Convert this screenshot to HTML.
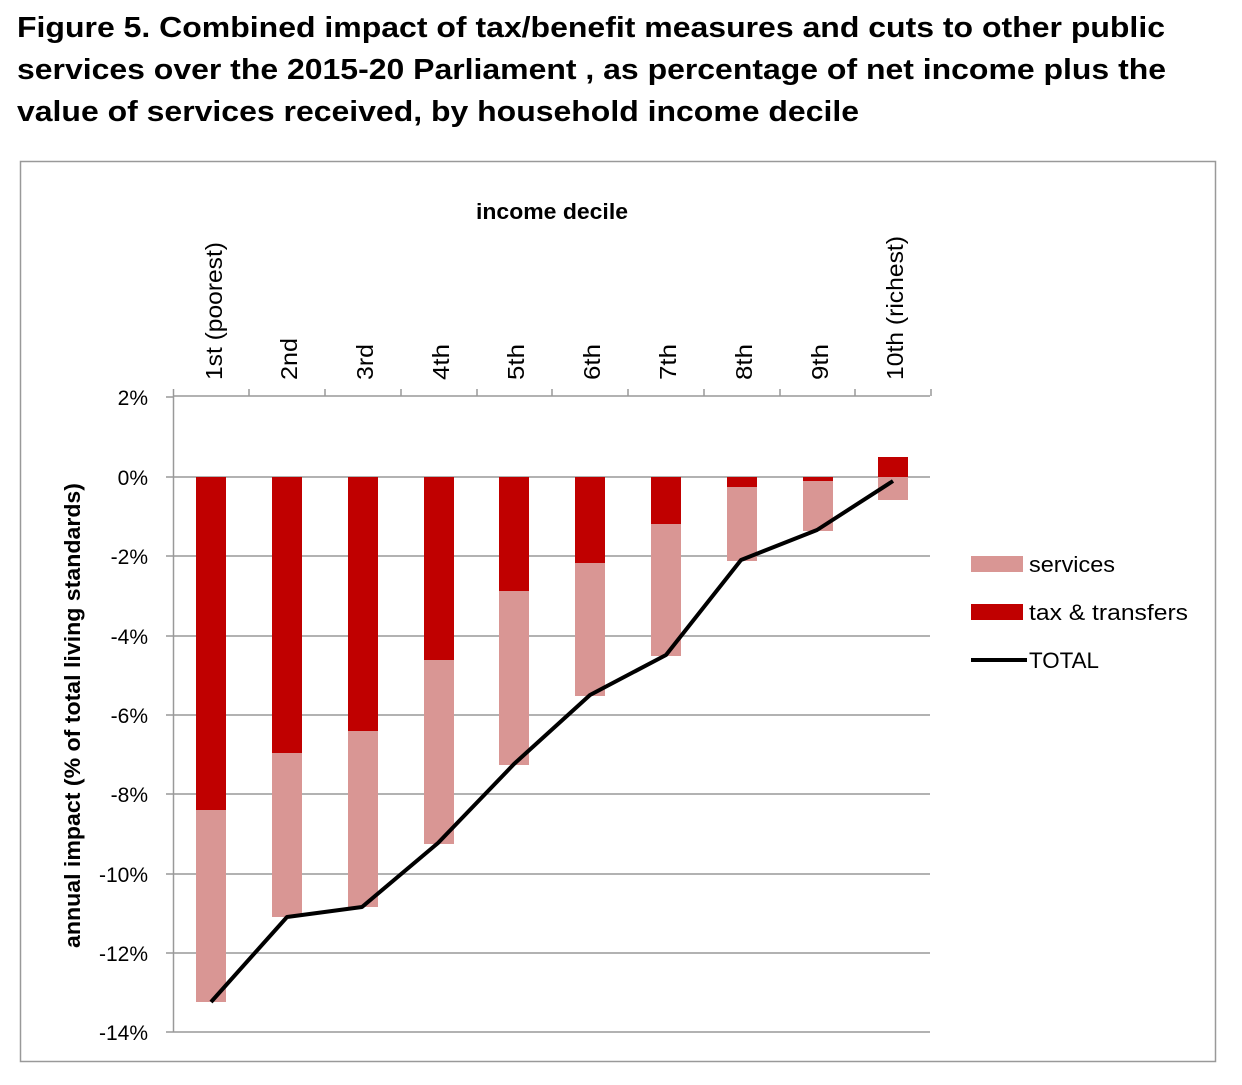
<!DOCTYPE html><html><head><meta charset="utf-8"><style>body{margin:0;background:#fff;width:1242px;height:1080px;overflow:hidden}</style></head><body>
<svg width="1242" height="1080" xmlns="http://www.w3.org/2000/svg" font-family="Liberation Sans, sans-serif">
<g font-weight="bold" font-size="29" fill="#000" lengthAdjust="spacingAndGlyphs">
<text x="17" y="37" textLength="1148" lengthAdjust="spacingAndGlyphs">Figure 5. Combined impact of tax/benefit measures and cuts to other public</text>
<text x="17" y="79" textLength="1149" lengthAdjust="spacingAndGlyphs">services over the 2015-20 Parliament , as percentage of net income plus the</text>
<text x="17" y="121" textLength="842" lengthAdjust="spacingAndGlyphs">value of services received, by household income decile</text>
</g>
<rect x="20.5" y="161.5" width="1195" height="900" fill="#fff" stroke="#999" stroke-width="1.5"/>
<g stroke="#999" stroke-width="1.5">
<line x1="173" y1="477" x2="930" y2="477"/><line x1="173" y1="556" x2="930" y2="556"/><line x1="173" y1="636" x2="930" y2="636"/><line x1="173" y1="715" x2="930" y2="715"/><line x1="173" y1="794" x2="930" y2="794"/><line x1="173" y1="874" x2="930" y2="874"/><line x1="173" y1="953" x2="930" y2="953"/><line x1="173" y1="1032" x2="930" y2="1032"/>
<line x1="173" y1="396" x2="930" y2="396"/><line x1="173.5" y1="396" x2="173.5" y2="1032"/>
<path d="M166 397h7M166 477h7M166 556h7M166 636h7M166 715h7M166 794h7M166 874h7M166 953h7M166 1032h7"/>
<path d="M173.5 389v7M249 389v7M325 389v7M401 389v7M477 389v7M552 389v7M628 389v7M704 389v7M780 389v7M855 389v7M931 389v7"/>
</g>
<g>
<rect x="196" y="477" width="30" height="333" fill="#c00000"/><rect x="196" y="810" width="30" height="192" fill="#d99694"/>
<rect x="272" y="477" width="30" height="276" fill="#c00000"/><rect x="272" y="753" width="30" height="164" fill="#d99694"/>
<rect x="348" y="477" width="30" height="254" fill="#c00000"/><rect x="348" y="731" width="30" height="176" fill="#d99694"/>
<rect x="424" y="477" width="30" height="183" fill="#c00000"/><rect x="424" y="660" width="30" height="184" fill="#d99694"/>
<rect x="499" y="477" width="30" height="114" fill="#c00000"/><rect x="499" y="591" width="30" height="174" fill="#d99694"/>
<rect x="575" y="477" width="30" height="86" fill="#c00000"/><rect x="575" y="563" width="30" height="133" fill="#d99694"/>
<rect x="651" y="477" width="30" height="47" fill="#c00000"/><rect x="651" y="524" width="30" height="132" fill="#d99694"/>
<rect x="727" y="477" width="30" height="10" fill="#c00000"/><rect x="727" y="487" width="30" height="74" fill="#d99694"/>
<rect x="803" y="477" width="30" height="4" fill="#c00000"/><rect x="803" y="481" width="30" height="50" fill="#d99694"/>
<rect x="878" y="457" width="30" height="20" fill="#c00000"/><rect x="878" y="477" width="30" height="23" fill="#d99694"/>
</g>
<polyline points="211,1002 287,917 362,907 438,843 514,764 590,695 666,655 741,560 817,530 893,481" fill="none" stroke="#000" stroke-width="4" stroke-linejoin="round"/>
<g font-size="21" text-anchor="end" fill="#000">
<text x="148" y="405">2%</text><text x="148" y="485">0%</text><text x="148" y="564">-2%</text><text x="148" y="644">-4%</text><text x="148" y="723">-6%</text><text x="148" y="802">-8%</text><text x="148" y="882">-10%</text><text x="148" y="961">-12%</text><text x="148" y="1040">-14%</text>
</g>
<g font-size="23" fill="#000">
<text transform="translate(222,380) rotate(-90)" textLength="138" lengthAdjust="spacingAndGlyphs">1st (poorest)</text>
<text transform="translate(297,380) rotate(-90)" textLength="42" lengthAdjust="spacingAndGlyphs">2nd</text>
<text transform="translate(373,380) rotate(-90)" textLength="36" lengthAdjust="spacingAndGlyphs">3rd</text>
<text transform="translate(449,380) rotate(-90)" textLength="36" lengthAdjust="spacingAndGlyphs">4th</text>
<text transform="translate(524,380) rotate(-90)" textLength="36" lengthAdjust="spacingAndGlyphs">5th</text>
<text transform="translate(600,380) rotate(-90)" textLength="36" lengthAdjust="spacingAndGlyphs">6th</text>
<text transform="translate(676,380) rotate(-90)" textLength="36" lengthAdjust="spacingAndGlyphs">7th</text>
<text transform="translate(752,380) rotate(-90)" textLength="36" lengthAdjust="spacingAndGlyphs">8th</text>
<text transform="translate(828,380) rotate(-90)" textLength="36" lengthAdjust="spacingAndGlyphs">9th</text>
<text transform="translate(903,380) rotate(-90)" textLength="144" lengthAdjust="spacingAndGlyphs">10th (richest)</text>
</g>
<text x="476" y="219" font-size="22" font-weight="bold" textLength="152" lengthAdjust="spacingAndGlyphs">income decile</text>
<text transform="translate(80,948) rotate(-90)" font-size="22" font-weight="bold" textLength="465" lengthAdjust="spacingAndGlyphs">annual impact (% of total living standards)</text>
<rect x="971" y="556" width="52" height="16" fill="#d99694"/>
<rect x="971" y="604" width="52" height="16" fill="#c00000"/>
<line x1="971" y1="660" x2="1027" y2="660" stroke="#000" stroke-width="4"/>
<g font-size="22" fill="#000"><text x="1029" y="572" textLength="86" lengthAdjust="spacingAndGlyphs">services</text><text x="1029" y="620" textLength="159" lengthAdjust="spacingAndGlyphs">tax &amp; transfers</text><text x="1029" y="668" textLength="70" lengthAdjust="spacingAndGlyphs">TOTAL</text></g>
</svg>
</body></html>
